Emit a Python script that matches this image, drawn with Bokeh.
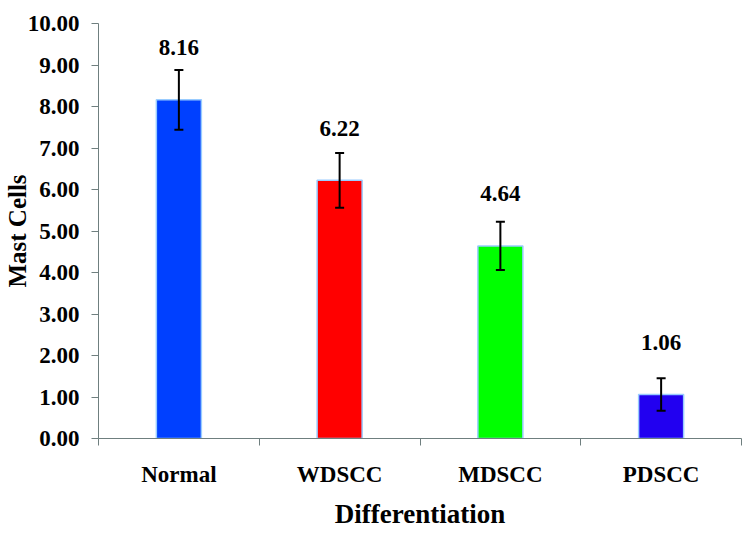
from bokeh.plotting import figure
from bokeh.models import FixedTicker, NumeralTickFormatter, Whisker, ColumnDataSource, Range1d, TeeHead, LabelSet
from bokeh.embed import file_html
from bokeh.resources import INLINE

categories = ["Normal", "WDSCC", "MDSCC", "PDSCC"]
means = [8.16, 6.22, 4.64, 1.06]
sds = [0.72, 0.66, 0.58, 0.39]
colors = ["#0040FF", "#FF0000", "#00FF00", "#2200F0"]
y_ticks = [0, 1, 2, 3, 4, 5, 6, 7, 8, 9, 10]

xs = [i + 0.5 for i in range(len(categories))]
src = ColumnDataSource(dict(
    x=xs, top=means, color=colors,
    upper=[m + s for m, s in zip(means, sds)],
    lower=[m - s for m, s in zip(means, sds)],
    label=["%.2f" % m for m in means],
))

FONT = "Liberation Serif"
AXC = "#6F7F7F"

p = figure(frame_width=643, frame_height=415, output_backend="svg", toolbar_location=None,
           x_range=Range1d(0, len(categories)), y_range=Range1d(0, 10),
           min_border_left=90, min_border_right=2, min_border_top=23, min_border_bottom=80)
p.outline_line_color = None
p.xgrid.visible = False
p.ygrid.visible = False

p.vbar(x="x", top="top", width=0.28, bottom=0, fill_color="color",
       line_color="#99CCFF", line_width=1.5, source=src)

w = Whisker(base="x", upper="upper", lower="lower", source=src,
            line_color="black", line_width=2, level="overlay",
            upper_head=TeeHead(size=9, line_width=2, line_color="black"),
            lower_head=TeeHead(size=9, line_width=2, line_color="black"))
p.add_layout(w)

labels = LabelSet(x="x", y="top", text="label", source=src, y_offset=52,
                  text_align="center", text_baseline="middle",
                  text_font=FONT, text_font_style="bold", text_font_size="23px",
                  text_color="black")
p.add_layout(labels)

# y axis
p.yaxis.ticker = FixedTicker(ticks=y_ticks, minor_ticks=[])
p.yaxis.formatter = NumeralTickFormatter(format="0.00")
p.yaxis.axis_line_color = AXC
p.yaxis.major_tick_line_color = AXC
p.yaxis.major_tick_in = 0
p.yaxis.major_tick_out = 7
p.yaxis.major_label_text_font = FONT
p.yaxis.major_label_text_font_style = "bold"
p.yaxis.major_label_text_font_size = "23px"
p.yaxis.major_label_text_color = "black"
p.yaxis.major_label_standoff = 12
p.yaxis.axis_label = "Mast Cells"
p.yaxis.axis_label_text_font = FONT
p.yaxis.axis_label_text_font_style = "bold"
p.yaxis.axis_label_text_font_size = "25px"
p.yaxis.axis_label_text_color = "black"
p.yaxis.axis_label_standoff = -6

# x axis
p.xaxis.ticker = FixedTicker(ticks=xs, minor_ticks=list(range(len(categories) + 1)))
p.xaxis.major_label_overrides = {x: c for x, c in zip(xs, categories)}
p.xaxis.axis_line_color = AXC
p.xaxis.major_tick_line_color = None
p.xaxis.major_tick_in = 0
p.xaxis.major_tick_out = 0
p.xaxis.minor_tick_line_color = AXC
p.xaxis.minor_tick_in = 0
p.xaxis.minor_tick_out = 7
p.xaxis.major_label_text_font = FONT
p.xaxis.major_label_text_font_style = "bold"
p.xaxis.major_label_text_font_size = "23px"
p.xaxis.major_label_text_color = "black"
p.xaxis.major_label_standoff = 16
p.xaxis.axis_label = "Differentiation"
p.xaxis.axis_label_text_font = FONT
p.xaxis.axis_label_text_font_style = "bold"
p.xaxis.axis_label_text_font_size = "27px"
p.xaxis.axis_label_text_color = "black"
p.xaxis.axis_label_standoff = 9

open("out.html", "w").write(file_html(p, INLINE))
